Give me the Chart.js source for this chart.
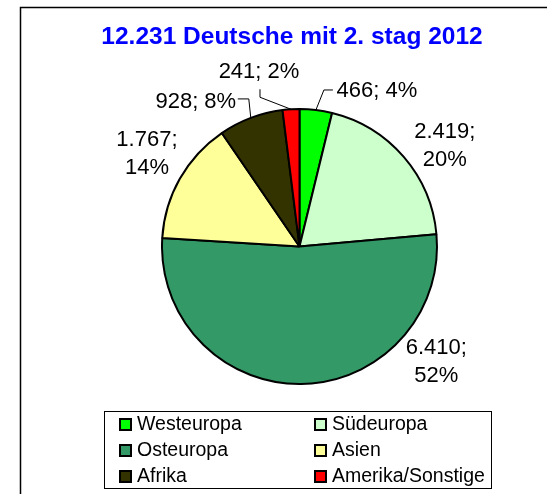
<!DOCTYPE html>
<html>
<head>
<meta charset="utf-8">
<script src="https://cdn.jsdelivr.net/npm/chart.js@4/dist/chart.umd.min.js"></script>
<style>
  html, body { margin: 0; padding: 0; background: #fff; }
  #wrap { width: 547px; height: 494px; }
</style>
</head>
<body>
<div id="wrap"><canvas id="myChart" width="547" height="494"></canvas></div>
<script>
// Daten
const titleText = "12.231 Deutsche mit 2. stag 2012";
const categories = ["Westeuropa", "Südeuropa", "Osteuropa", "Asien", "Afrika", "Amerika/Sonstige"];
const counts = [466, 2419, 6410, 1767, 928, 241];
const sliceColors = ["#00FF00", "#CCFFCC", "#339966", "#FFFF99", "#333300", "#FF0000"];

// Lage der Beschriftungen relativ zum Randpunkt in der Mitte jedes Segments
const labelLayout = [
  { dx: 61, dy: -13, wrap: false, leader: [[8, -20], [17, -20]] },
  { dx: 41, dy: -19, wrap: true },
  { dx: 135, dy: -30, wrap: true },
  { dx: -33, dy: -33, wrap: true },
  { dx: -55, dy: -10, wrap: false, leader: [[-2, -19], [-13, -19]] },
  { dx: -32, dy: -31, wrap: false, leader: [[-31, -12], [-31, -20]] },
];

const FONT = '"Liberation Sans", Arial, sans-serif';

function formatNumber(v) {
  return String(v).replace(/\B(?=(\d{3})+(?!\d))/g, ".");
}

const decorations = {
  id: "decorations",
  beforeDraw(chart) {
    const c = chart.ctx;
    c.save();
    c.fillStyle = "#fff";
    c.fillRect(0, 0, chart.width, chart.height);
    // Rahmen
    c.strokeStyle = "#000";
    c.lineWidth = 1.5;
    c.beginPath();
    c.moveTo(20.5, chart.height + 2);
    c.lineTo(20.5, 7.5);
    c.lineTo(chart.width + 2, 7.5);
    c.stroke();
    // Titel
    c.fillStyle = "#0000FF";
    c.font = "bold 24.5px " + FONT;
    c.textAlign = "center";
    c.textBaseline = "alphabetic";
    c.fillText(titleText, 292, 44);
    c.restore();
  },
  afterDatasetsDraw(chart) {
    const c = chart.ctx;
    const meta = chart.getDatasetMeta(0);
    const values = chart.data.datasets[0].data;
    const total = values.reduce((s, v) => s + v, 0);
    c.save();
    c.fillStyle = "#000";
    c.strokeStyle = "#000";
    c.lineWidth = 1;
    c.font = "22px " + FONT;
    c.textAlign = "center";
    c.textBaseline = "alphabetic";
    meta.data.forEach((arc, i) => {
      const mid = (arc.startAngle + arc.endAngle) / 2;
      const ex = arc.x + Math.cos(mid) * arc.outerRadius;
      const ey = arc.y + Math.sin(mid) * arc.outerRadius;
      const lay = labelLayout[i];
      const num = formatNumber(values[i]) + ";";
      const pct = Math.round((values[i] / total) * 100) + "%";
      const lx = ex + lay.dx;
      const ly = ey + lay.dy;
      if (lay.wrap) {
        c.fillText(num, lx, ly);
        c.fillText(pct, lx, ly + 28);
      } else {
        c.fillText(num + " " + pct, lx, ly);
      }
      if (lay.leader) {
        c.beginPath();
        c.moveTo(ex, ey);
        lay.leader.forEach((p) => c.lineTo(ex + p[0], ey + p[1]));
        c.stroke();
      }
    });

    // Legende
    c.lineWidth = 1;
    c.strokeRect(104.5, 411.5, 387, 77);
    c.font = "19.5px " + FONT;
    c.textAlign = "left";
    const colX = [119, 314];
    const rowY = [430, 456, 482];
    chart.data.labels.forEach((label, i) => {
      const x = colX[i % 2];
      const y = rowY[Math.floor(i / 2)];
      c.fillStyle = "#000";
      c.fillRect(x, y - 12, 13, 13);
      c.fillStyle = sliceColors[i];
      c.fillRect(x + 2, y - 10, 9, 9);
      c.fillStyle = "#000";
      c.fillText(label, x + 18, y);
    });
    c.restore();
  },
};

const ctx = document.getElementById("myChart");
const chart = new Chart(ctx, {
  type: "pie",
  data: {
    labels: categories,
    datasets: [
      {
        data: counts,
        backgroundColor: sliceColors,
        borderColor: "#000",
        borderWidth: 2,
      },
    ],
  },
  options: {
    responsive: false,
    animation: false,
    devicePixelRatio: 1,
    layout: {
      padding: { left: 161, right: 109, top: 108, bottom: 109 },
    },
    plugins: {
      legend: { display: false },
      title: { display: false },
      tooltip: { enabled: false },
    },
  },
  plugins: [decorations],
});
</script>
</body>
</html>
